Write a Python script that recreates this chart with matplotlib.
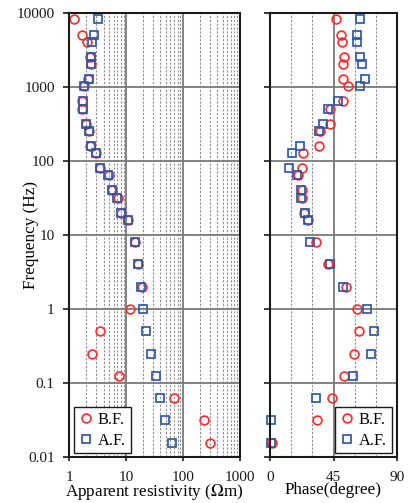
import matplotlib
matplotlib.use("Agg")
import matplotlib.pyplot as plt
from matplotlib.ticker import FixedLocator, FixedFormatter, NullFormatter

# ---------------- data ----------------
freq = [8192, 5120, 4096, 2560, 2048, 1280, 1024, 640, 512, 320, 256, 160, 128,
        80, 64, 40, 32, 20, 16, 8, 4, 2, 1, 0.5, 0.25, 0.125, 0.0625, 0.03125, 0.015625]

rho_bf = [1.21, 1.65, 2.07, 2.30, 2.40, 2.15, 1.80, 1.70, 1.70, 1.95, 2.25, 2.35, 2.95,
          3.45, 4.95, 5.60, 7.05, 8.10, 10.8, 14.5, 16.2, 18.6, 11.6, 3.41, 2.47, 7.54,
          67.9, 231, 298]
rho_af = [3.15, 2.68, 2.53, 2.37, 2.43, 2.22, 1.83, 1.72, 1.72, 1.94, 2.22, 2.37, 2.90,
          3.46, 4.83, 5.68, 6.95, 8.17, 10.6, 14.2, 16.0, 18.1, 19.4, 22.2, 26.8, 32.8,
          39.5, 48.3, 64.1]

phase_bf = [46.6, 50.1, 51.3, 52.7, 52.0, 52.0, 55.1, 52.0, 42.5, 42.5, 35.4, 34.9, 23.1,
            22.8, 20.0, 22.5, 22.3, 23.8, 26.5, 32.5, 40.9, 53.9, 62.0, 63.0, 59.6, 52.3,
            44.2, 33.0, 1.0]
phase_af = [64.1, 61.5, 61.5, 63.7, 65.5, 67.5, 63.9, 48.2, 40.9, 37.7, 34.9, 21.2, 15.2,
            13.5, 19.0, 21.9, 21.6, 24.5, 26.8, 28.3, 42.5, 51.5, 68.6, 74.1, 71.7, 58.9,
            32.3, 0.5, 0.5]

series_labels = ["B.F.", "A.F."]
freq_ticks = [0.01, 0.1, 1, 10, 100, 1000, 10000]
freq_ticklabels = ["0.01", "0.1", "1", "10", "100", "1000", "10000"]
rho_ticks = [1, 10, 100, 1000]
rho_ticklabels = ["1", "10", "100", "1000"]
phase_ticks = [0, 45, 90]
phase_ticklabels = ["0", "45", "90"]
phase_minor = [15, 30, 60, 75]

# ---------------- style ----------------
plt.rcParams['font.family'] = ['Liberation Serif', 'DejaVu Serif']
plt.rcParams['mathtext.fontset'] = 'stix'
TICK_FS = 11
LABEL_FS = 12.3
LEG_FS = 11.8

RED = '#FF2D2D'
BLUE = '#2F57A8'
W, H = 416, 503
fig = plt.figure(figsize=(W / 100, H / 100), dpi=100)

ax1 = fig.add_axes([69.3 / W, 1 - 457 / H, (240 - 69.3) / W, (457 - 13) / H])
ax2 = fig.add_axes([270.3 / W, 1 - 457 / H, (396.7 - 270.3) / W, (457 - 13) / H])

mk = dict(linestyle='none', markersize=6.3, markeredgewidth=1.25,
          markerfacecolor='none', zorder=5, clip_on=False)
mk_sq = {**mk, 'markersize': 5.6}

# ---- left: apparent resistivity ----
ax1.plot(rho_bf, freq, marker='o', markeredgecolor=RED, label=series_labels[0], **mk)
ax1.plot(rho_af, freq, marker='s', markeredgecolor=BLUE, label=series_labels[1], **mk_sq)
ax1.set_xscale('log')
ax1.set_yscale('log')
ax1.set_xlim(1, 1000)
ax1.set_ylim(0.01, 10000)
ax1.xaxis.set_major_locator(FixedLocator(rho_ticks))
ax1.xaxis.set_major_formatter(FixedFormatter(rho_ticklabels))
ax1.xaxis.set_minor_formatter(NullFormatter())
ax1.yaxis.set_major_locator(FixedLocator(freq_ticks))
ax1.yaxis.set_major_formatter(FixedFormatter(freq_ticklabels))
ax1.yaxis.set_minor_locator(FixedLocator([]))
ax1.grid(True, which='major', axis='both', color='#7a7a7a', linewidth=1.3, zorder=1)
ax1.grid(True, which='minor', axis='x', color='#8f8f8f', linewidth=0.8,
         linestyle=(0, (2, 1.5)), zorder=1)
ax1.set_xlabel("Apparent resistivity ($\\Omega$m)", fontsize=LABEL_FS, labelpad=-1)
ax1.set_ylabel("Frequency (Hz)", fontsize=LABEL_FS)
ax1.yaxis.set_label_coords(-0.18, 0.5)

# ---- right: phase ----
ax2.plot(phase_bf, freq, marker='o', markeredgecolor=RED, label=series_labels[0], **mk)
ax2.plot(phase_af, freq, marker='s', markeredgecolor=BLUE, label=series_labels[1], **mk_sq)
ax2.set_yscale('log')
ax2.set_xlim(0, 90)
ax2.set_ylim(0.01, 10000)
ax2.xaxis.set_major_locator(FixedLocator(phase_ticks))
ax2.xaxis.set_major_formatter(FixedFormatter(phase_ticklabels))
ax2.xaxis.set_minor_locator(FixedLocator(phase_minor))
ax2.yaxis.set_major_locator(FixedLocator(freq_ticks))
ax2.yaxis.set_major_formatter(NullFormatter())
ax2.yaxis.set_minor_locator(FixedLocator([]))
ax2.grid(True, which='major', axis='both', color='#7a7a7a', linewidth=1.3, zorder=1)
ax2.grid(True, which='minor', axis='x', color='#8f8f8f', linewidth=0.8,
         linestyle=(0, (2, 1.5)), zorder=1)
ax2.set_xlabel("Phase(degree)", fontsize=LABEL_FS, labelpad=-1)

for ax in (ax1, ax2):
    ax.set_axisbelow(True)
    for s in ax.spines.values():
        s.set_linewidth(1.5)
        s.set_color('#1a1a1a')
        s.set_zorder(6)
    ax.tick_params(which='major', direction='out', width=1.2,
                   colors='#1a1a1a', labelsize=TICK_FS)
    ax.tick_params(axis='y', which='major', length=4, pad=6.5)
    ax.tick_params(axis='x', which='major', length=3, pad=7)
    ax.tick_params(which='minor', length=0)

leg_kw = dict(frameon=True, fancybox=False, edgecolor='#1a1a1a', framealpha=1,
              handlelength=0.9, handletextpad=0.25, borderpad=0.3, labelspacing=0.3,
              borderaxespad=0, fontsize=LEG_FS)
l1 = ax1.legend(loc='lower left', bbox_to_anchor=(0.028, 0.008), **leg_kw)
l1.get_frame().set_linewidth(1.0)
l1.set_zorder(7)
l2 = ax2.legend(loc='lower right', bbox_to_anchor=(0.96, 0.008), **leg_kw)
l2.get_frame().set_linewidth(1.0)
l2.set_zorder(7)

fig.savefig("out.png", dpi=100)
